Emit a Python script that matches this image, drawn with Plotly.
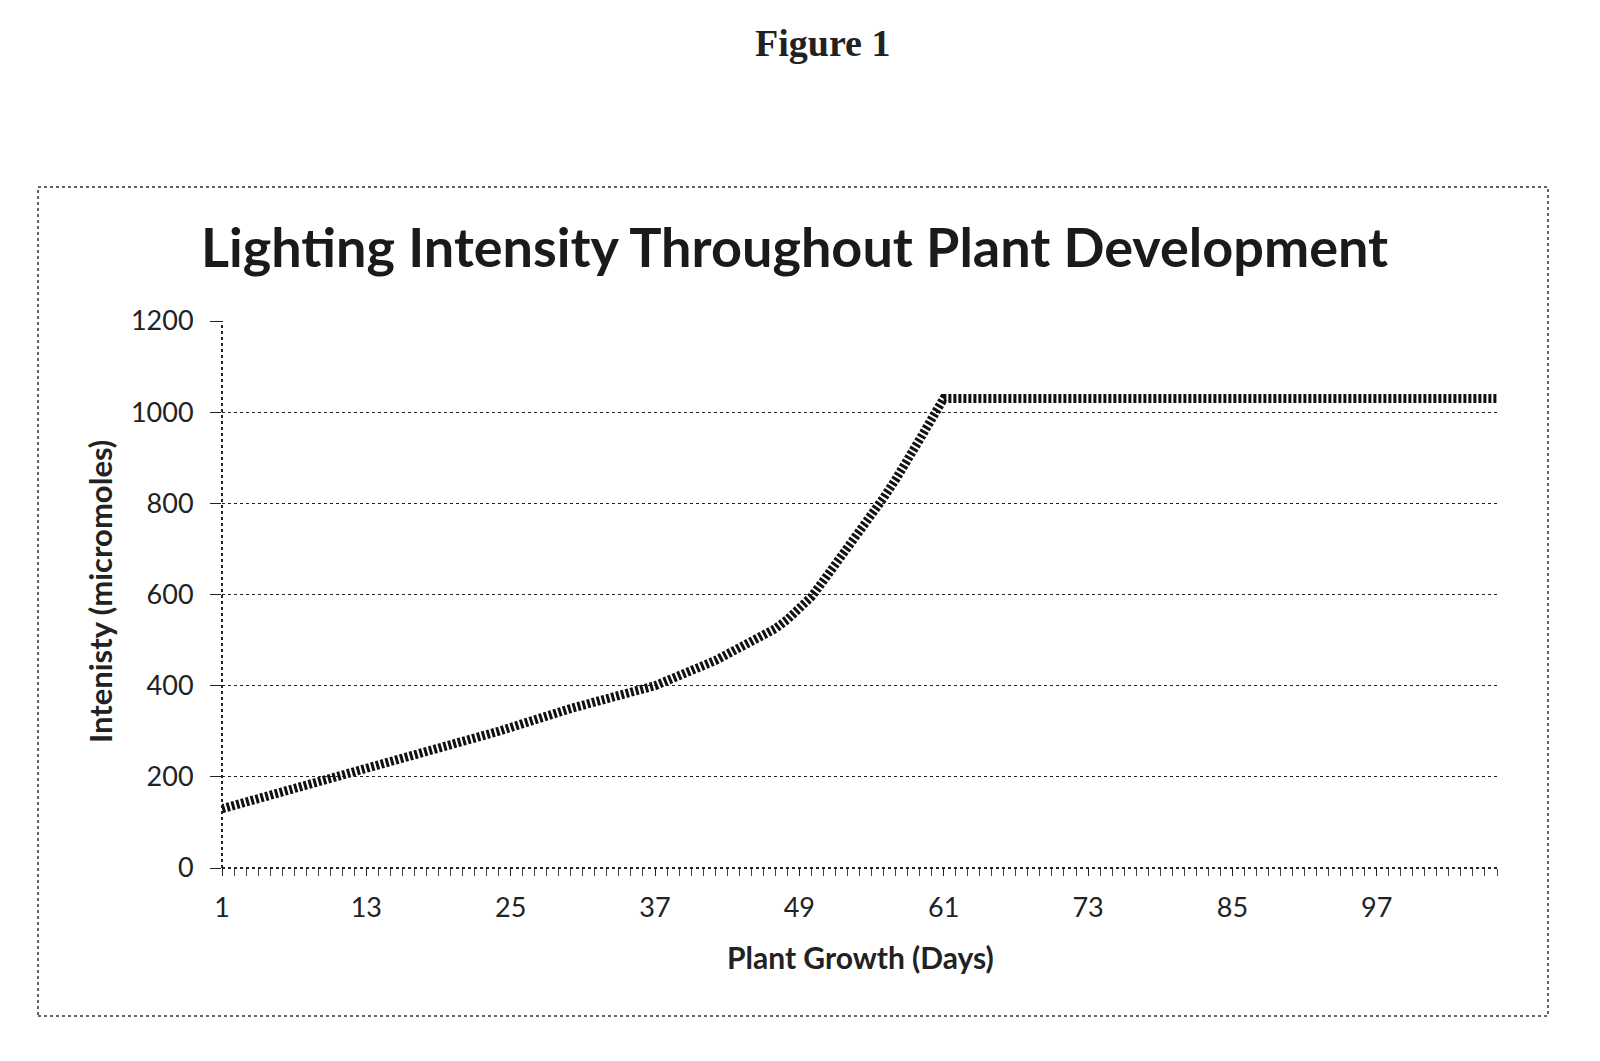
import plotly.graph_objects as go

# ---- data ----
days = [1, 12, 18, 24, 30, 37, 42, 47, 48, 49, 50, 51, 52, 53, 54, 55, 56, 57, 58, 59, 60, 61, 107]
intensity = [130, 212, 255, 300, 350, 400, 455, 525, 545, 570, 595, 630, 665, 700, 738, 775, 812, 852, 892, 940, 985, 1030, 1030]
x_tick_vals = [1, 13, 25, 37, 49, 61, 73, 85, 97]
x_tick_text = ["1", "13", "25", "37", "49", "61", "73", "85", "97"]
y_tick_vals = [0, 200, 400, 600, 800, 1000, 1200]

OFF = 8  # page body margin
W, H = 1600 - OFF, 1061 - OFF
# plot area in page pixels
PL, PR, PT, PB = 222, 1497, 321, 868
L, R, T, B = PL - OFF, W - (PR - OFF), PT - OFF, H - (PB - OFF)
PW, PH = PR - PL, PB - PT


def px2x(px):
    return (px - PL) / PW


def px2y(py):
    return (PB - py) / PH


fig = go.Figure()
fig.add_trace(go.Scatter(
    x=days, y=intensity, mode="lines",
    line=dict(color="#111111", width=9, dash="3px,2px"),
    showlegend=False, hoverinfo="skip",
))

lab_font = dict(family="Lato", size=27, color="#222222")
fig.update_layout(
    width=W, height=H,
    margin=dict(l=L, r=R, t=T, b=B, pad=0),
    paper_bgcolor="white", plot_bgcolor="white",
    xaxis=dict(
        range=[1, 107], tickmode="array", tickvals=x_tick_vals, ticktext=x_tick_text,
        ticks="outside", ticklen=7, tickcolor="#222", tickwidth=1,
        minor=dict(tickmode="linear", tick0=1, dtick=1, ticks="outside", ticklen=7,
                   tickcolor="#444", tickwidth=1, showgrid=False),
        showgrid=False, zeroline=False, showline=False,
        tickfont=lab_font, ticklabelstandoff=9,
    ),
    yaxis=dict(
        range=[0, 1200], tickmode="array", tickvals=y_tick_vals,
        ticks="outside", ticklen=11, tickcolor="#222", tickwidth=1,
        showgrid=True, gridcolor="#222222", gridwidth=1.2, griddash="dot",
        zeroline=False, showline=False,
        tickfont=lab_font, ticklabelstandoff=11,
    ),
)

# axis lines (dotted)
fig.add_shape(type="line", xref="paper", yref="paper", x0=0, x1=0, y0=0, y1=1,
              line=dict(color="#222", width=2, dash="dot"))
fig.add_shape(type="line", xref="paper", yref="paper", x0=0, x1=1, y0=0, y1=0,
              line=dict(color="#222", width=2, dash="dot"))

# outer dotted frame of the chart
fig.add_shape(type="rect", xref="paper", yref="paper",
              x0=px2x(38), x1=px2x(1548), y0=px2y(1016), y1=px2y(187),
              line=dict(color="#333", width=1.5, dash="dot"), fillcolor="rgba(0,0,0,0)")

# texts
fig.add_annotation(text="<b>Figure 1</b>", xref="paper", yref="paper",
                   x=px2x(822), y=px2y(43), showarrow=False,
                   font=dict(family="Liberation Serif", size=38, color="#222"),
                   xanchor="center", yanchor="middle")
fig.add_annotation(text="<b>Lighting Intensity Throughout Plant Development</b>",
                   xref="paper", yref="paper", x=px2x(794), y=px2y(246), showarrow=False,
                   font=dict(family="Lato", size=54, color="#1a1a1a"),
                   xanchor="center", yanchor="middle")
fig.add_annotation(text="<b>Plant Growth (Days)</b>", xref="paper", yref="paper",
                   x=px2x(860), y=px2y(957), showarrow=False,
                   font=dict(family="Lato", size=30, color="#222"),
                   xanchor="center", yanchor="middle")
fig.add_annotation(text="<b>Intenisty (micromoles)</b>", xref="paper", yref="paper",
                   x=px2x(100), y=px2y(592), showarrow=False, textangle=-90,
                   font=dict(family="Lato", size=31, color="#222"),
                   xanchor="center", yanchor="middle")

fig.write_html("out.html")
